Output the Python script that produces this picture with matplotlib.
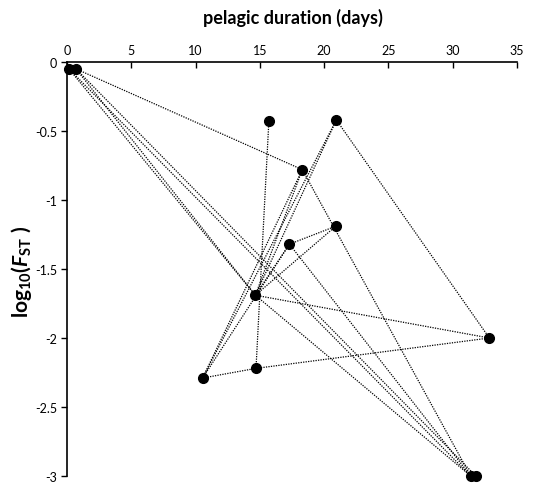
import numpy as np
import matplotlib
matplotlib.use('Agg')
import matplotlib.pyplot as plt

plt.rcParams['font.family'] = 'Lato'
plt.rcParams['axes.unicode_minus'] = False
plt.rcParams['mathtext.fontset'] = 'custom'
plt.rcParams['mathtext.rm'] = 'Lato:bold'
plt.rcParams['mathtext.it'] = 'Lato:bold:italic'
plt.rcParams['mathtext.bf'] = 'Lato:bold'

# points: pelagic duration (days), log10(Fst)
names = ['A', 'B', 'C', 'D', 'E', 'F', 'G', 'H', 'I', 'J', 'K', 'L', 'M']
duration = [0.15, 0.7, 15.7, 20.95, 18.3, 20.9, 17.3, 14.65, 10.55, 14.7, 32.85, 31.4, 31.8]
log_fst = [-0.05, -0.05, -0.43, -0.42, -0.78, -1.19, -1.32, -1.69, -2.29, -2.22, -2.0, -3.0, -3.0]

# dotted links between points
links = [('B', 'E'), ('B', 'M'), ('A', 'L'), ('B', 'H'), ('A', 'H'),
         ('C', 'J'), ('D', 'K'), ('D', 'H'), ('D', 'I'), ('E', 'H'), ('E', 'I'),
         ('E', 'L'), ('F', 'G'), ('F', 'H'), ('G', 'H'), ('G', 'L'), ('G', 'I'),
         ('H', 'K'), ('H', 'L'), ('I', 'J'), ('J', 'K')]

x_ticks = [0, 5, 10, 15, 20, 25, 30, 35]
y_ticks = [0, -0.5, -1, -1.5, -2, -2.5, -3]

pos = {n: (x, y) for n, x, y in zip(names, duration, log_fst)}

fig = plt.figure(figsize=(5.42, 4.89), dpi=100)
ax = fig.add_axes([67 / 542, 1 - 477 / 489, 450 / 542, 414 / 489])

for a, b in links:
    ax.plot([pos[a][0], pos[b][0]], [pos[a][1], pos[b][1]], color='black',
            lw=0.9, linestyle=(0, (1, 1)), clip_on=False, zorder=2)

ax.plot(duration, log_fst, 'o', color='black', ms=7, clip_on=False, zorder=3)

ax.set_xlim(0, 35)
ax.set_ylim(-3, 0)
ax.xaxis.tick_top()
ax.set_xticks(x_ticks)
ax.set_xticklabels([str(v) for v in x_ticks])
ax.set_yticks(y_ticks)
ax.set_yticklabels([f'{v:g}' for v in y_ticks])
ax.tick_params(axis='x', direction='in', length=4, width=1, labelsize=9, pad=4)
ax.tick_params(axis='y', direction='out', length=4, width=1, labelsize=9, pad=3)

ax.spines['right'].set_visible(False)
ax.spines['bottom'].set_visible(False)
ax.spines['top'].set_linewidth(1.2)
ax.spines['left'].set_linewidth(1.2)

fig.text(293 / 542, 1 - 18 / 489, 'pelagic duration (days)', ha='center', va='center',
         fontsize=13, fontweight='bold')
fig.text(22 / 542, 1 - 272 / 489, r'$\mathrm{log}_{10}(\mathit{F}_{\mathrm{ST}}\ )$',
         ha='center', va='center', rotation=90, fontsize=15)

plt.savefig('out.png', dpi=100)
